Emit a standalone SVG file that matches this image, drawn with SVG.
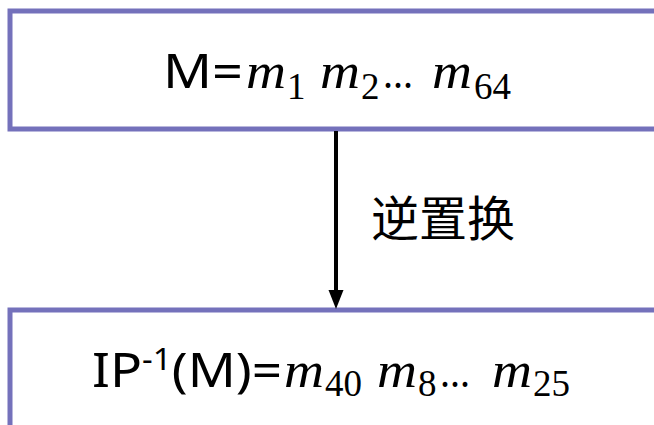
<svg xmlns="http://www.w3.org/2000/svg" width="654" height="425" viewBox="0 0 654 425">
<style>
.box{fill:#fff;stroke:#7471BB;stroke-width:5}
.sans{font-family:"Noto Sans","Open Sans",sans-serif;font-size:48px;fill:#000}
.mi{font-family:"Liberation Serif",serif;font-style:italic;font-size:50px;fill:#000}
.sub{font-family:"Liberation Serif",serif;font-size:37px;fill:#000}
.dots{font-family:"Liberation Serif",serif;font-size:44px;fill:#000}
.lbl{font-family:"Noto Sans CJK SC",sans-serif;font-size:48px;fill:#000}
</style>
<rect width="654" height="425" fill="#fff"/>
<g id="top">
<rect class="box" x="10" y="11" width="670" height="118"/>
<text class="sans" x="163" y="88" textLength="80" lengthAdjust="spacingAndGlyphs">M=</text>
<text class="mi" x="246" y="88" textLength="40" lengthAdjust="spacingAndGlyphs">m</text>
<text class="sub" x="287" y="99">1</text>
<text class="mi" x="320" y="88" textLength="40" lengthAdjust="spacingAndGlyphs">m</text>
<text class="sub" x="361" y="99">2</text>
<text class="dots" x="383" y="88" textLength="30" lengthAdjust="spacingAndGlyphs">...</text>
<text class="mi" x="432" y="88" textLength="40" lengthAdjust="spacingAndGlyphs">m</text>
<text class="sub" x="474" y="99">64</text>
</g>
<g id="bottom">
<rect class="box" x="10" y="310" width="670" height="130"/>
<text class="sans" x="92" y="387" textLength="190" lengthAdjust="spacingAndGlyphs">IP<tspan font-size="30" dy="-17">-1</tspan><tspan dy="17">(M)=</tspan></text>
<text class="mi" x="284" y="387" textLength="40" lengthAdjust="spacingAndGlyphs">m</text>
<text class="sub" x="325" y="396">40</text>
<text class="mi" x="377" y="387" textLength="40" lengthAdjust="spacingAndGlyphs">m</text>
<text class="sub" x="418" y="396">8</text>
<text class="dots" x="440" y="387" textLength="30" lengthAdjust="spacingAndGlyphs">...</text>
<text class="mi" x="492" y="387" textLength="40" lengthAdjust="spacingAndGlyphs">m</text>
<text class="sub" x="533" y="396">25</text>
</g>
<g id="connectors">
<line x1="336" y1="131" x2="336" y2="293" stroke="#000" stroke-width="4"/>
<polygon points="328.5,290 343.5,290 336,309" fill="#000"/>
<text class="lbl" x="371" y="236">逆置换</text>
</g>
</svg>
